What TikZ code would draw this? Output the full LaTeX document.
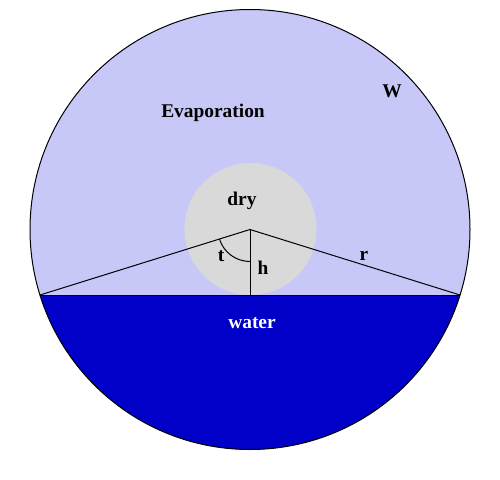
\documentclass[tikz,border=0pt]{standalone}
\usepackage{fontspec}
\setmainfont{Liberation Serif}
\definecolor{evap}{RGB}{200,200,248}
\definecolor{drygray}{RGB}{217,217,217}
\definecolor{waterblue}{RGB}{0,0,200}
\tikzset{
  lbl/.style={font=\fontsize{19.4}{22}\selectfont\bfseries, inner sep=0pt},
  thin line/.style={line width=1pt, draw=black},
}
\begin{document}
\begin{tikzpicture}[x=1pt,y=-1pt]
\useasboundingbox (0,0) rectangle (500,479);
% outer circle
\fill[evap] (250,229.5) circle (220);
% water segment
\begin{scope}
  \clip (250,229.5) circle (220);
  \fill[waterblue] (0,295) rectangle (500,479);
\end{scope}
% dry circle
\fill[drygray] (250.5,229) circle (66);
\draw[thin line] (250,229.5) circle (220);
\coordinate (apex) at (250,229.5);
\coordinate (left) at (40,295);
\coordinate (right) at (460,295);
\coordinate (foot) at (250,295);
\draw[thin line] (left) -- (right);
\draw[thin line] (left) -- (apex) -- (right);
\draw[thin line] (apex) -- (foot);
\draw[thin line] ([shift={(0,32)}]apex) arc[start angle=90, end angle=162.7, radius=32];
\node[lbl] (evaplbl) at (213,113) {Evaporation};
\node[lbl] (wlbl) at (392,91) {W};
\node[lbl] (drylbl) at (242,201) {dry};
\node[lbl] (tlbl) at (221,256) {t};
\node[lbl] (hlbl) at (263,268) {h};
\node[lbl] (rlbl) at (364,256) {r};
\node[lbl, text=white] (waterlbl) at (252,323) {water};
\end{tikzpicture}
\end{document}
